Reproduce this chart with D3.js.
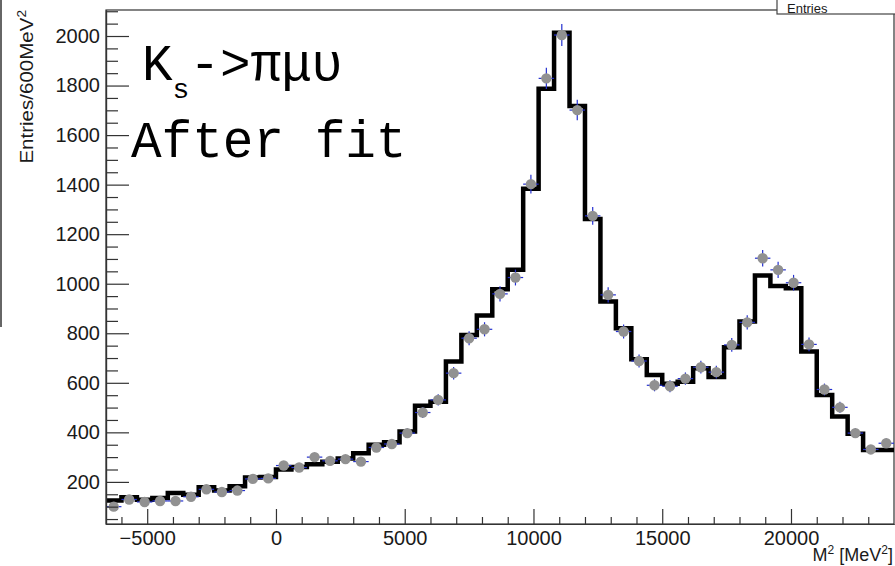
<!DOCTYPE html>
<html>
<head>
<meta charset="utf-8">
<script src="https://cdn.jsdelivr.net/npm/d3@7"></script>
<style>
  body { margin: 0; background: #fff; }
  svg { display: block; }
  .tick text { font-family: "Liberation Sans", Arial, sans-serif; fill: #1a1a1a; }
</style>
</head>
<body>
<div id="wrapper"></div>
<script>
// Histogram binning (like the TH1 definition)
const xLow = -6600;
const xHigh = 24000;
const binWidth = 600;

// Data points (grey markers), one per bin
const dataCounts = [
  100, 129, 119, 123, 123, 140, 170, 159, 165, 212,
  214, 266, 258, 300, 285, 292, 282, 339, 353, 397,
  480, 531, 639, 780, 816, 959, 1025, 1402, 1829, 2004,
  1701, 1274, 955, 807, 688, 590, 586, 617, 663, 643,
  753, 844, 1103, 1056, 1004, 755, 573, 501, 397, 331,
  356,
];

// Fit result (black histogram), one per bin
const fitCounts = [
  125, 138, 128, 135, 155, 148, 178, 165, 182, 218,
  220, 250, 260, 271, 281, 294, 316, 350, 360, 403,
  507, 524, 686, 793, 872, 978, 1056, 1383, 1787, 2013,
  1717, 1261, 928, 820, 695, 632, 596, 604, 659, 623,
  744, 847, 1033, 991, 982, 726, 551, 464, 394, 329,
  329,
];

const xMajorTicks = [-5000, 0, 5000, 10000, 15000, 20000];
const yMajorTicks = [200, 400, 600, 800, 1000, 1200, 1400, 1600, 1800, 2000];

function drawChart() {

  // 1. Dimensions
  const dimensions = {
    width: 895,
    height: 566,
    frame: { left: 106, top: 10, right: 894, bottom: 524 },
  };
  const f = dimensions.frame;

  // 2. Canvas
  const svg = d3.select("#wrapper")
    .append("svg")
      .attr("width", dimensions.width)
      .attr("height", dimensions.height);

  // 3. Scales
  const xScale = d3.scaleLinear()
    .domain([xLow, xHigh])
    .range([f.left, f.right]);
  const yScale = d3.scaleLinear()
    .domain([30, 2105])
    .range([f.bottom, f.top]);

  svg.append("clipPath")
      .attr("id", "frame-clip")
    .append("rect")
      .attr("x", f.left)
      .attr("y", f.top)
      .attr("width", f.right - f.left)
      .attr("height", f.bottom - f.top);

  // frame
  svg.append("rect")
      .attr("x", f.left)
      .attr("y", f.top)
      .attr("width", f.right - f.left)
      .attr("height", f.bottom - f.top)
      .attr("fill", "none")
      .attr("stroke", "#333")
      .attr("stroke-width", 1.2);

  // 4. Fit histogram (step outline)
  const stepPoints = fitCounts.map((v, i) => [xLow + i * binWidth, v]);
  stepPoints.push([xHigh, fitCounts[fitCounts.length - 1]]);
  const stepLine = d3.line()
    .x(d => xScale(d[0]))
    .y(d => yScale(d[1]))
    .curve(d3.curveStepAfter);

  const plot = svg.append("g").attr("clip-path", "url(#frame-clip)");
  plot.append("path")
      .attr("d", stepLine(stepPoints))
      .attr("fill", "none")
      .attr("stroke", "#000")
      .attr("stroke-width", 4.5)
      .attr("stroke-linejoin", "miter");

  // 5. Data points with error bars
  const points = dataCounts.map((v, i) => ({
    x: xLow + (i + 0.5) * binWidth,
    y: v,
    err: Math.sqrt(v),  // Poisson errors
  }));

  const errGroup = plot.append("g")
      .attr("stroke", "#2430d0")
      .attr("stroke-width", 1.2);
  errGroup.selectAll(".err-v")
    .data(points)
    .join("line")
      .attr("class", "err-v")
      .attr("x1", d => xScale(d.x))
      .attr("x2", d => xScale(d.x))
      .attr("y1", d => yScale(d.y - d.err))
      .attr("y2", d => yScale(d.y + d.err));
  errGroup.selectAll(".err-h")
    .data(points)
    .join("line")
      .attr("class", "err-h")
      .attr("x1", d => xScale(d.x - binWidth / 2))
      .attr("x2", d => xScale(d.x + binWidth / 2))
      .attr("y1", d => yScale(d.y))
      .attr("y2", d => yScale(d.y));

  plot.selectAll(".marker")
    .data(points)
    .join("circle")
      .attr("class", "marker")
      .attr("cx", d => xScale(d.x))
      .attr("cy", d => yScale(d.y))
      .attr("r", 5.2)
      .attr("fill", "#919191");

  // 6. Axes (ticks pointing into the frame, ROOT style)
  const yAxis = d3.axisLeft(yScale)
    .tickValues(yMajorTicks)
    .tickSizeInner(-23)
    .tickSizeOuter(0)
    .tickPadding(6)
    .tickFormat(d3.format("d"));
  const yMinor = d3.axisLeft(yScale)
    .tickValues(d3.range(50, 2101, 50).filter(v => v % 200 !== 0))
    .tickSizeInner(-12)
    .tickSizeOuter(0)
    .tickFormat("");

  const yAxisGroup = svg.append("g")
      .attr("transform", `translate(${f.left},0)`)
      .call(yAxis);
  yAxisGroup.selectAll("text").attr("font-size", 20);
  svg.append("g")
      .attr("transform", `translate(${f.left},0)`)
      .call(yMinor);

  const xAxis = d3.axisBottom(xScale)
    .tickValues(xMajorTicks)
    .tickSizeInner(-15)
    .tickSizeOuter(0)
    .tickPadding(7)
    .tickFormat(d3.format("d"));
  const xMinor = d3.axisBottom(xScale)
    .tickValues(d3.range(-6000, 24000, 1000).filter(v => v % 5000 !== 0))
    .tickSizeInner(-7)
    .tickSizeOuter(0)
    .tickFormat("");

  const xAxisGroup = svg.append("g")
      .attr("transform", `translate(0,${f.bottom})`)
      .call(xAxis);
  xAxisGroup.selectAll("text").attr("font-size", 20);
  svg.append("g")
      .attr("transform", `translate(0,${f.bottom})`)
      .call(xMinor);

  svg.selectAll(".domain").attr("stroke", "#333").attr("stroke-width", 1.2);
  svg.selectAll(".tick line").attr("stroke", "#333").attr("stroke-width", 1.2);

  // 7. Titles and labels
  // ROOT draws this title a bit stretched along its direction
  const yTitle = svg.append("text")
      .attr("transform", "translate(33,10) rotate(-90) scale(1.14,1)")
      .attr("text-anchor", "end")
      .attr("font-family", "Liberation Sans, Arial, sans-serif")
      .attr("font-size", 18)
      .attr("fill", "#1a1a1a");
  yTitle.append("tspan").text("Entries/600MeV");
  yTitle.append("tspan")
      .attr("font-size", 12)
      .attr("dy", -7)
      .text("2");

  const xTitle = svg.append("text")
      .attr("x", 893)
      .attr("y", 561)
      .attr("text-anchor", "end")
      .attr("font-family", "Liberation Sans, Arial, sans-serif")
      .attr("font-size", 18)
      .attr("fill", "#1a1a1a");
  xTitle.append("tspan").text("M");
  xTitle.append("tspan").attr("font-size", 12).attr("dy", -7).text("2");
  xTitle.append("tspan").attr("dy", 7).text(" [MeV");
  xTitle.append("tspan").attr("font-size", 12).attr("dy", -7).text("2");
  xTitle.append("tspan").attr("dy", 7).text("]");

  const mono = "Liberation Mono, Courier New, monospace";
  const decay = svg.append("text")
      .attr("x", 142)
      .attr("y", 80)
      .attr("font-family", mono)
      .attr("font-size", 51)
      .attr("fill", "#000");
  decay.append("tspan").text("K");
  decay.append("tspan").attr("font-size", 28).attr("dy", 18).text("s");
  decay.append("tspan").attr("dy", -18).text("->πμυ");

  svg.append("text")
      .attr("x", 131)
      .attr("y", 157)
      .attr("font-family", mono)
      .attr("font-size", 51)
      .attr("fill", "#000")
      .text("After fit");

  // stats box (mostly above the picture)
  svg.append("rect")
      .attr("x", 777)
      .attr("y", -30)
      .attr("width", 200)
      .attr("height", 44)
      .attr("fill", "#fff")
      .attr("stroke", "#444")
      .attr("stroke-width", 1.2);
  svg.append("text")
      .attr("x", 787)
      .attr("y", 12.5)
      .attr("font-family", "Liberation Sans, Arial, sans-serif")
      .attr("font-size", 13)
      .attr("fill", "#1a1a1a")
      .text("Entries");

  // edge of neighbouring pad on the left
  svg.append("line")
      .attr("x1", 1)
      .attr("x2", 1)
      .attr("y1", 0)
      .attr("y2", 327)
      .attr("stroke", "#666")
      .attr("stroke-width", 2);
}
drawChart();
</script>
</body>
</html>
